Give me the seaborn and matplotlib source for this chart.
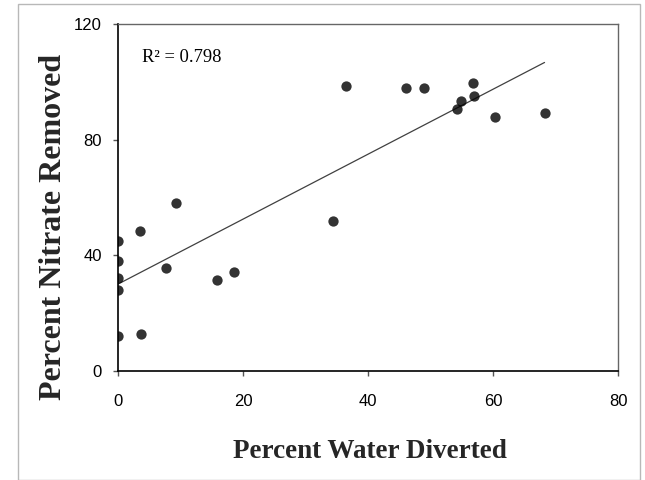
import matplotlib
matplotlib.use("Agg")
import matplotlib.pyplot as plt
import seaborn as sns
import pandas as pd
from matplotlib.patches import Rectangle

# Data
water_diverted = [0.0, 0.0, 0.0, 0.0, 0.0, 3.5, 3.6, 7.6, 9.2, 15.8, 18.5,
                  34.4, 36.5, 46.1, 48.9, 54.2, 54.9, 56.7, 56.9, 60.3, 68.2]
nitrate_removed = [45.0, 38.1, 32.2, 27.9, 12.0, 48.4, 12.8, 35.4, 58.2, 31.4, 34.2,
                   51.8, 98.5, 97.7, 98.0, 90.5, 93.5, 99.5, 95.2, 87.7, 89.2]
x_ticks = [0, 20, 40, 60, 80]
y_ticks = [0, 40, 80, 120]
r2_label = "R² = 0.798"
x_label = "Percent Water Diverted"
y_label = "Percent Nitrate Removed"

df = pd.DataFrame({"x": water_diverted, "y": nitrate_removed})

sns.set_theme(style="white")
plt.rcParams["font.family"] = ["Liberation Sans", "DejaVu Sans"]

fig = plt.figure(figsize=(6.45, 4.80), dpi=100)
ax = fig.add_axes([118.3 / 645, 109.3 / 480, 500 / 645, 346.7 / 480])

sns.regplot(data=df, x="x", y="y", ax=ax, ci=None, truncate=True,
            scatter_kws=dict(s=55, color="black", edgecolor="black", linewidths=0, zorder=3),
            line_kws=dict(color="#404040", lw=0.9))

ax.set_xlim(0, 80)
ax.set_ylim(0, 120)
ax.set_xticks(x_ticks)
ax.set_yticks(y_ticks)
ax.set_xlabel("")
ax.set_ylabel("")

for side in ["left", "bottom"]:
    ax.spines[side].set_color("black")
    ax.spines[side].set_linewidth(1.2)
for side in ["top", "right"]:
    ax.spines[side].set_color("#666666")
    ax.spines[side].set_linewidth(1.0)

ax.tick_params(axis="both", direction="out", length=3.6, width=1.0,
               color="#555555", labelsize=12, labelcolor="black")
ax.tick_params(axis="x", pad=13.5)
ax.tick_params(axis="y", pad=8.2)
ax.tick_params(bottom=True, left=True)

ax.text(3.74, 107, r2_label, fontsize=13.3, family=["Liberation Serif", "DejaVu Serif"],
        ha="left", va="baseline", color="black")

fig.text(369.5 / 645, (480 - 457.7) / 480, x_label, fontsize=19.5, fontweight="bold",
         family=["Liberation Serif", "DejaVu Serif"], ha="center", va="baseline")
fig.text(61 / 645, (480 - 227) / 480, y_label, fontsize=23, fontweight="bold",
         family=["Liberation Serif", "DejaVu Serif"], rotation=90,
         rotation_mode="anchor", ha="center", va="baseline")

fig.patches.append(Rectangle((18.3 / 645, 0), (640 - 18.3) / 645, (480 - 4) / 480,
                             transform=fig.transFigure, fill=False,
                             edgecolor="#b8b8b8", linewidth=1.0))

fig.savefig("out.png", dpi=100)
